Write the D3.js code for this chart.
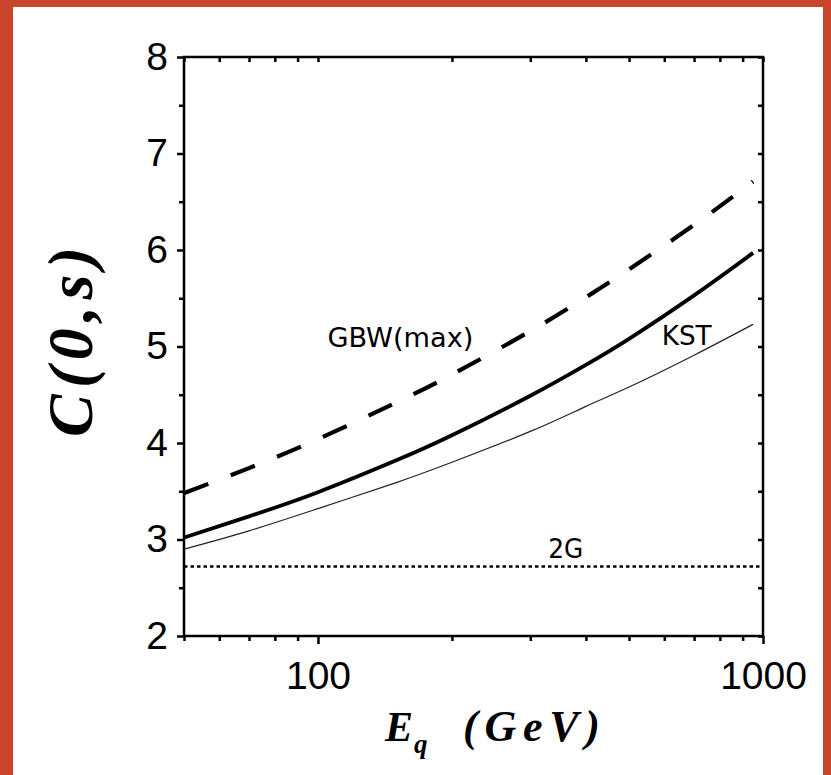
<!DOCTYPE html>
<html lang="en">
	<head>
		<meta charset="utf-8">
		<title>C(0,s) vs Eq</title>
		<script type="text/javascript" src="https://cdn.jsdelivr.net/npm/d3@7"></script>
		<style type="text/css">
			body {
				margin: 0;
				background: #c8452b;
			}

			.tick text {
				font-family: "Liberation Sans", Arial, sans-serif;
				font-size: 39px;
				fill: #000;
			}

			.tick line {
				stroke: #000;
				stroke-width: 2.5px;
			}

			.note {
				font-family: "DejaVu Sans", sans-serif;
				font-size: 27px;
				fill: #000;
			}

			.title {
				font-family: "Liberation Serif", "Times New Roman", serif;
				font-weight: bold;
				font-style: italic;
				fill: #000;
			}
		</style>
	</head>
	<body>
		<script type="text/javascript">

			// Data
			var energy = [50, 70, 100, 150, 200, 300, 400, 500, 700, 950];
			var gbwValues = [3.48, 3.74, 4.04, 4.42, 4.71, 5.16, 5.51, 5.80, 6.26, 6.71];
			var kstValues = [3.02, 3.24, 3.49, 3.82, 4.08, 4.49, 4.81, 5.08, 5.53, 5.97];
			var thinValues = [2.90, 3.09, 3.32, 3.59, 3.80, 4.12, 4.38, 4.58, 4.91, 5.23];
			var twoGEnergy = [50, 1000];
			var twoGValues = [2.72, 2.72];

			var yMajor = [2, 3, 4, 5, 6, 7, 8];
			var yMinor = [2.5, 3.5, 4.5, 5.5, 6.5, 7.5];
			var xMajor = [100, 1000];
			var xMinor = [50, 60, 70, 80, 90, 200, 300, 400, 500, 600, 700, 800, 900];

			var notes = [
				{ text: "GBW(max)", E: 105, v: 5.0, len: 146 },
				{ text: "KST", E: 592, v: 5.02, len: 50 },
				{ text: "2G", E: 329, v: 2.81, len: 35 }
			];

			//Settings
			var w = 831
			var h = 775
			var plotLeft = 184, plotRight = 763, plotTop = 57, plotBottom = 636;

			var svg = d3.select("body")
				.append("svg")
				.attr("width", w)
				.attr("height", h)
				.style("display", "block");

			// white panel on the red background
			svg.append("rect")
				.attr("x", 13)
				.attr("y", 7)
				.attr("width", 810)
				.attr("height", h - 7)
				.attr("fill", "#fff");

			var x = d3.scaleLog().domain([50, 1000]).range([plotLeft, plotRight]);
			var y = d3.scaleLinear().domain([2, 8]).range([plotBottom, plotTop]);

			function drawAxis(axis, tx, ty) {
				var g = svg.append("g")
					.attr("transform", "translate(" + tx + "," + ty + ")")
					.call(axis);
				g.select(".domain").remove();
				return g;
			}

			// left: outward ticks with labels
			drawAxis(d3.axisLeft(y).tickValues(yMajor).tickSize(7).tickPadding(9).tickFormat(d3.format("d")), plotLeft, 0);
			drawAxis(d3.axisLeft(y).tickValues(yMinor).tickSize(5).tickFormat(""), plotLeft, 0);
			// right: inward ticks
			drawAxis(d3.axisRight(y).tickValues(yMajor.concat(yMinor)).tickSize(-5).tickFormat(""), plotRight, 0);
			// bottom: outward ticks with labels
			drawAxis(d3.axisBottom(x).tickValues(xMajor).tickSize(8).tickPadding(17).tickFormat(d3.format("d")), 0, plotBottom);
			drawAxis(d3.axisBottom(x).tickValues(xMinor).tickSize(5).tickFormat(""), 0, plotBottom);
			// top: inward ticks
			drawAxis(d3.axisTop(x).tickValues(xMajor.concat(xMinor)).tickSize(-5).tickFormat(""), 0, plotTop);

			// frame
			svg.append("rect")
				.attr("x", plotLeft)
				.attr("y", plotTop)
				.attr("width", plotRight - plotLeft)
				.attr("height", plotBottom - plotTop)
				.attr("fill", "none")
				.attr("stroke", "#000")
				.attr("stroke-width", 2.5);

			var line = d3.line()
				.x(function(d) { return x(d[0]); })
				.y(function(d) { return y(d[1]); })
				.curve(d3.curveNatural);

			function series(xs, ys) {
				return xs.map(function(e, i) { return [e, ys[i]]; });
			}

			svg.append("path")
				.attr("d", line(series(twoGEnergy, twoGValues)))
				.attr("fill", "none")
				.attr("stroke", "#000")
				.attr("stroke-width", 2.6)
				.attr("stroke-dasharray", "3.5,3");

			svg.append("path")
				.attr("d", line(series(energy, thinValues)))
				.attr("fill", "none")
				.attr("stroke", "#222")
				.attr("stroke-width", 1.2);

			svg.append("path")
				.attr("d", line(series(energy, kstValues)))
				.attr("fill", "none")
				.attr("stroke", "#000")
				.attr("stroke-width", 3.8);

			svg.append("path")
				.attr("d", line(series(energy, gbwValues)))
				.attr("fill", "none")
				.attr("stroke", "#000")
				.attr("stroke-width", 4.2)
				.attr("stroke-dasharray", "26,24");

			// curve labels
			svg.selectAll("text.note")
				.data(notes)
				.enter()
				.append("text")
				.attr("class", "note")
				.attr("x", function(d) { return x(d.E); })
				.attr("y", function(d) { return y(d.v); })
				.attr("textLength", function(d) { return d.len; })
				.attr("lengthAdjust", "spacingAndGlyphs")
				.text(function(d) { return d.text; });

			// y axis title
			svg.append("text")
				.attr("class", "title")
				.attr("transform", "translate(92,342) rotate(-90)")
				.attr("text-anchor", "middle")
				.attr("font-size", 64)
				.attr("textLength", 190)
				.attr("lengthAdjust", "spacing")
				.text("C(0,s)");

			// x axis title
			var xt = svg.append("text")
				.attr("class", "title")
				.attr("x", 385)
				.attr("y", 741)
				.attr("font-size", 42);
			xt.append("tspan").text("E");
			xt.append("tspan")
				.attr("font-size", 27)
				.attr("dy", 12)
				.attr("dx", 1)
				.text("q");
			svg.append("text")
				.attr("class", "title")
				.attr("x", 463)
				.attr("y", 741)
				.attr("font-size", 44)
				.attr("textLength", 137)
				.attr("lengthAdjust", "spacing")
				.text("(GeV)");

		</script>
	</body>
</html>
